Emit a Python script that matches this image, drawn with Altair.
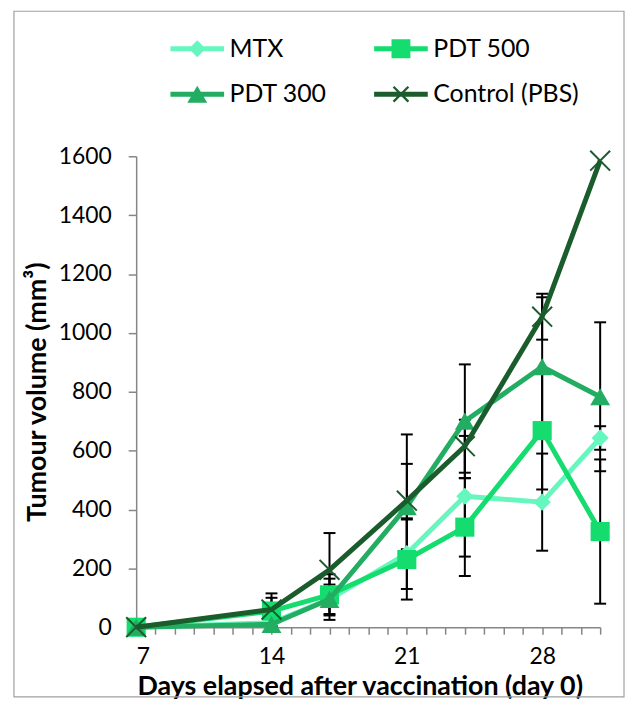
import altair as alt
import pandas as pd

# ---- data ----
days = [7, 14, 17, 21, 24, 28, 31]
series_names = ["MTX", "PDT 500", "PDT 300", "Control (PBS)"]
mtx = [0, 15, 95, 250, 445, 425, 643]
mtx_err = [0, 10, 70, 120, 205, 165, 40]
pdt500 = [0, 55, 110, 230, 340, 668, 325]
pdt500_err = [0, 45, 70, 136, 166, 200, 245]
pdt300 = [0, 10, 95, 410, 700, 885, 783]
pdt300_err = [0, 8, 50, 145, 193, 236, 253]
control = [0, 60, 195, 430, 615, 1055, 1585]
control_err = [0, 55, 125, 225, 90, 78, 0]
y_ticks = [0, 200, 400, 600, 800, 1000, 1200, 1400, 1600]
x_labels = [7, 14, 21, 28]

colors = ["#66F7BF", "#14DC6E", "#22AD62", "#1A5C2C"]
X_PATH = "M-1,-1L1,1M-1,1L1,-1"
LINE = "M-2.7,-0.25H2.7V0.25H-2.7Z "
legend_paths = [
    LINE + "M0,-0.85L0.85,0L0,0.85L-0.85,0Z",
    LINE + "M-0.95,-0.95H0.95V0.95H-0.95Z",
    LINE + "M0,-0.85L1,0.85H-1Z",
    LINE + "M-0.67,-0.83L0.83,0.67L0.67,0.83L-0.83,-0.67Z M-0.83,0.67L0.67,-0.83L0.83,-0.67L-0.67,0.83Z",
]
point_shapes = ["diamond", "square", "triangle-up", X_PATH]
point_sizes = [300, 370, 400, 400]

rows = []
for name, vals, errs in zip(series_names, [mtx, pdt500, pdt300, control],
                            [mtx_err, pdt500_err, pdt300_err, control_err]):
    for d, v, e in zip(days, vals, errs):
        rows.append({"series": name, "day": d, "volume": v, "err": e,
                     "lo": v - e, "hi": v + e})
df = pd.DataFrame(rows)
err_df = df[df["err"] > 0]
caps = pd.concat([err_df.assign(cap=err_df["lo"]), err_df.assign(cap=err_df["hi"])])

FONT = "Lato"
xscale = alt.Scale(domain=[7, 31], nice=False, zero=False)
yscale = alt.Scale(domain=[0, 1600], nice=False)
label_test = " || ".join(f"datum.value == {v}" for v in x_labels)
xaxis = alt.Axis(values=list(range(7, 32)),
                 labelExpr=f"({label_test}) ? datum.label : ''",
                 title="Days elapsed after vaccination (day 0)", grid=False,
                 tickSize=7, labelPadding=11, titlePadding=6, titleX=225)
yaxis = alt.Axis(values=y_ticks, format="d", title="Tumour volume (mm³)", grid=False,
                 tickSize=8, labelPadding=17, titlePadding=7)
X = alt.X("day:Q", scale=xscale, axis=xaxis)
Y = alt.Y("volume:Q", scale=yscale, axis=yaxis)

frame = alt.Chart(pd.DataFrame({"k": [0]})).mark_rect(
    fillOpacity=0, stroke="#a0a0a0", strokeWidth=1.2
).encode(x=alt.value(-123), x2=alt.value(491), y=alt.value(-146), y2=alt.value(544))

err_rule = alt.Chart(err_df).mark_rule(color="black", strokeWidth=2).encode(
    x=X, y=alt.Y("lo:Q", scale=yscale, axis=yaxis), y2="hi:Q")
err_caps = alt.Chart(caps).mark_tick(color="black", orient="horizontal", size=12,
                                     thickness=2, opacity=1).encode(
    x=X, y=alt.Y("cap:Q", scale=yscale, axis=yaxis))

layers = [frame, err_rule, err_caps]
for name, col, shp, sz in zip(series_names, colors, point_shapes, point_sizes):
    sub = alt.Chart(df).transform_filter(alt.datum.series == name)
    layers.append(sub.mark_line(color=col, strokeWidth=5, strokeJoin="round").encode(x=X, y=Y))
    if shp == X_PATH:
        pts = sub.mark_point(shape=shp, size=sz, filled=False, color=col,
                             strokeWidth=2, opacity=1)
    else:
        pts = sub.mark_point(shape=shp, size=sz, filled=True, color=col, opacity=1)
    layers.append(pts.encode(x=X, y=Y))

leg = alt.Legend(title=None, orient="none", legendX=49, legendY=-121, columns=2,
                 direction="horizontal",
                 columnPadding=47, rowPadding=20, symbolSize=400, symbolStrokeWidth=0,
                 labelOffset=20, labelFont=FONT, labelFontSize=25, labelColor="black",
                 padding=0)
legend_layer = alt.Chart(df).transform_filter("false").mark_point(
    filled=True, opacity=1, size=400).encode(
    color=alt.Color("series:N", scale=alt.Scale(domain=series_names, range=colors), legend=leg),
    shape=alt.Shape("series:N", scale=alt.Scale(domain=series_names, range=legend_paths), legend=leg),
)
layers.append(legend_layer)

chart = alt.layer(*layers).properties(
    width=467, height=474,
    padding={"left": 5, "top": 0, "right": 0, "bottom": 0},
).configure_view(stroke=None).configure_axis(
    domainColor="#868686", tickColor="#868686", domainWidth=1.5, tickWidth=1.5,
    labelFont=FONT, labelFontSize=23, labelColor="black",
    titleFont=FONT, titleFontSize=27, titleFontWeight="bold", titleColor="black",
)

chart.save("out.html", embed_options={"renderer": "svg", "actions": False})
